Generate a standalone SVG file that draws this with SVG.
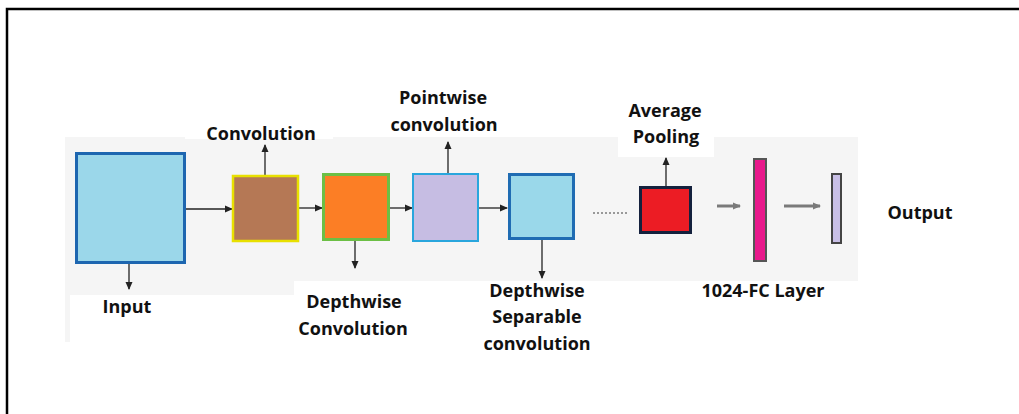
<svg xmlns="http://www.w3.org/2000/svg" width="1019" height="414" viewBox="0 0 1019 414">
<style>
text{font-family:"Open Sans","Liberation Sans",sans-serif;font-weight:bold;font-size:18px;fill:#111;text-anchor:middle}
.c{stroke:#222;stroke-width:1.3;fill:none;marker-end:url(#ah)}
.g{stroke:#7a7a7a;stroke-width:3;fill:none;marker-end:url(#gh)}
</style>
<defs>
<marker id="ah" markerUnits="userSpaceOnUse" markerWidth="8" markerHeight="8" refX="7" refY="4" orient="auto"><path d="M0,0.5 L8,4 L0,7.5 Z" fill="#222"/></marker>
<marker id="gh" markerUnits="userSpaceOnUse" markerWidth="8" markerHeight="8" refX="7" refY="4" orient="auto"><path d="M0,0.5 L8,4 L0,7.5 Z" fill="#7a7a7a"/></marker>
</defs>
<rect x="0" y="0" width="1019" height="414" fill="#fff"/>
<rect x="7" y="9" width="1030" height="420" fill="none" stroke="#000" stroke-width="2.5"/>
<g id="background">
<rect x="65" y="137" width="793" height="144" fill="#f5f5f5"/>
<rect x="65" y="281" width="229" height="14" fill="#f5f5f5"/>
<rect x="65" y="295" width="5" height="47" fill="#f5f5f5"/>
<rect x="618" y="136" width="96" height="21" fill="#fff"/>
<rect x="185" y="136" width="148" height="3" fill="#fff"/>
</g>
<g id="connectors">
<line class="c" x1="186" y1="209" x2="232" y2="209"/>
<line class="c" x1="299" y1="208" x2="322" y2="208"/>
<line class="c" x1="390" y1="208" x2="412" y2="208"/>
<line class="c" x1="479" y1="208" x2="507" y2="208"/>
<line class="c" x1="265" y1="175" x2="265" y2="145"/>
<line class="c" x1="129" y1="264" x2="129" y2="289"/>
<line class="c" x1="355" y1="241" x2="355" y2="268"/>
<line class="c" x1="448" y1="173" x2="448" y2="142"/>
<line class="c" x1="542" y1="240" x2="542" y2="278"/>
<line class="c" x1="666" y1="186" x2="666" y2="158"/>
<line x1="593" y1="213" x2="628" y2="213" stroke="#999" stroke-width="2" stroke-dasharray="2 2"/>
<line class="g" x1="717" y1="206" x2="740" y2="206"/>
<line class="g" x1="784" y1="206" x2="820" y2="206"/>
</g>
<g id="input">
<rect x="76.5" y="153.5" width="108" height="109" fill="#9bd7ea" stroke="#1d66b0" stroke-width="3"/>
<text x="127" y="313">Input</text>
</g>
<g id="convolution">
<rect x="233" y="176" width="65" height="65" fill="#b57855" stroke="#e8e000" stroke-width="2.5"/>
<text x="261" y="140">Convolution</text>
</g>
<g id="depthwise">
<rect x="323.5" y="174.5" width="65" height="65" fill="#fc7e25" stroke="#6cbf45" stroke-width="3"/>
<text x="354" y="308">Depthwise</text>
<text x="353" y="335">Convolution</text>
</g>
<g id="pointwise">
<rect x="413" y="174" width="65" height="67" fill="#c6bde3" stroke="#29a6dd" stroke-width="2"/>
<text x="443" y="104">Pointwise</text>
<text x="444" y="131">convolution</text>
</g>
<g id="separable">
<rect x="509.5" y="174.5" width="64" height="64" fill="#9ad8ea" stroke="#1f6cb3" stroke-width="3"/>
<text x="537" y="297">Depthwise</text>
<text x="537" y="323">Separable</text>
<text x="537" y="350">convolution</text>
</g>
<g id="avgpool">
<rect x="640.5" y="187.5" width="50" height="45" fill="#ec1c24" stroke="#14213d" stroke-width="3"/>
<text x="665" y="117">Average</text>
<text x="666" y="143">Pooling</text>
</g>
<g id="fc">
<rect x="754" y="159" width="12" height="102" fill="#e9198c" stroke="#555" stroke-width="2"/>
<text x="763" y="297">1024-FC Layer</text>
</g>
<g id="output">
<rect x="832" y="174" width="9" height="69" fill="#c8bfe6" stroke="#444" stroke-width="2"/>
<text x="920" y="219">Output</text>
</g>
</svg>
